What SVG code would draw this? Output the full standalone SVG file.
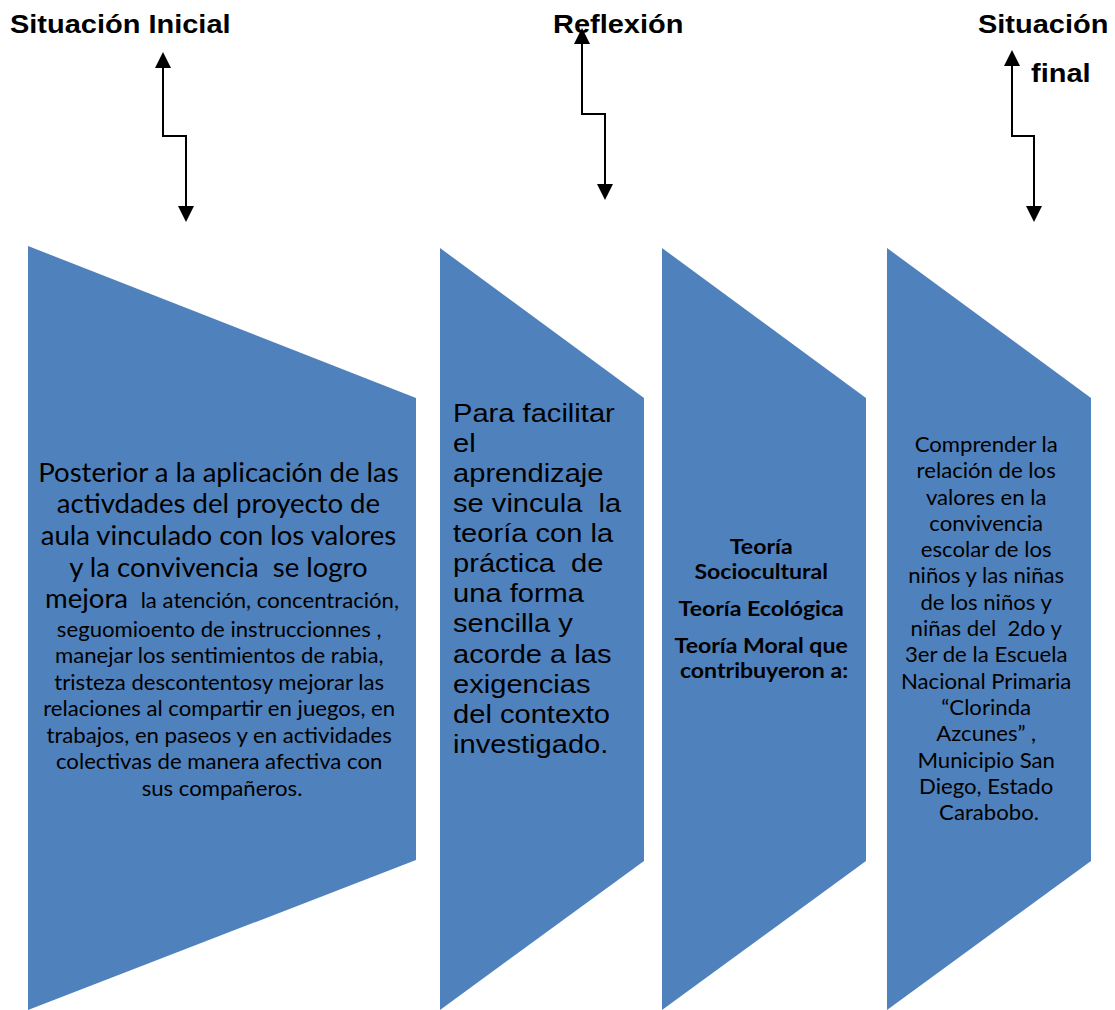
<svg xmlns="http://www.w3.org/2000/svg" width="1115" height="1010" viewBox="0 0 1115 1010">
<defs>
<style>
.shape{fill:#4F81BD;}
.head{font-family:"Liberation Sans",Arial,sans-serif;font-weight:bold;font-size:26px;fill:#000;}
.cal{font-family:Lato,"Open Sans",sans-serif;fill:#000;}
.ari{font-family:"Liberation Sans",Arial,sans-serif;font-size:26px;fill:#000;}
.conn{fill:none;stroke:#000;stroke-width:2;}
</style>
<marker id="ah" markerUnits="userSpaceOnUse" markerWidth="16" markerHeight="16" viewBox="0 0 16 16" refX="1" refY="8" orient="auto-start-reverse">
<path d="M0,0 L16,8 L0,16 Z" fill="#000"/>
</marker>
</defs>
<rect width="1115" height="1010" fill="#fff"/>

<g id="titles">
<text class="head" transform="translate(10,33) scale(1.115,1)">Situación Inicial</text>
<text class="head" transform="translate(553,33) scale(1.115,1)">Reflexión</text>
<text class="head" transform="translate(978,33) scale(1.115,1)">Situación</text>
<text class="head" transform="translate(1031,82) scale(1.115,1)">final</text>
</g>

<g id="connectors">
<path class="conn" d="M163,67 V136 H186 V207" marker-start="url(#ah)" marker-end="url(#ah)"/>
<path class="conn" d="M582,43 V114 H605 V185" marker-start="url(#ah)" marker-end="url(#ah)"/>
<path class="conn" d="M1012,65 V136 H1034 V207" marker-start="url(#ah)" marker-end="url(#ah)"/>
</g>

<g id="node1">
<polygon class="shape" points="28,246 416,398 416,860 28,1010"/>
<g transform="translate(222,0) scale(1.04,1)">
<text class="cal" text-anchor="middle" font-size="26.5">
<tspan x="0" y="482">Posterior a la aplicación de las</tspan>
<tspan x="0" y="513.5">activdades del proyecto de</tspan>
<tspan x="0" y="545">aula vinculado con los valores</tspan>
<tspan x="0" y="577">y la convivencia&#160; se logro</tspan>
<tspan x="0" y="608.5">mejora&#160;<tspan font-size="21.3">&#160;la atención, concentración,</tspan></tspan>
</text>
<text class="cal" text-anchor="middle" font-size="21.3">
<tspan x="0" y="637">seguomioento de instruccionnes ,</tspan>
<tspan x="0" y="663.5">manejar los sentimientos de rabia,</tspan>
<tspan x="0" y="690">tristeza descontentosy mejorar las</tspan>
<tspan x="0" y="716.5">relaciones al compartir en juegos, en</tspan>
<tspan x="0" y="743">trabajos, en paseos y en actividades</tspan>
<tspan x="0" y="769.5">colectivas de manera afectiva con</tspan>
<tspan x="0" y="796">sus compañeros.</tspan>
</text>
</g>
</g>

<g id="node2">
<polygon class="shape" points="440,248 644,398 644,861 440,1010"/>
<g transform="translate(453,0) scale(1.12,1)">
<text class="ari">
<tspan x="0" y="422">Para facilitar</tspan>
<tspan x="0" y="452">el</tspan>
<tspan x="0" y="482">aprendizaje</tspan>
<tspan x="0" y="512">se vincula&#160; la</tspan>
<tspan x="0" y="542.5">teoría con la</tspan>
<tspan x="0" y="572.5">práctica&#160; de</tspan>
<tspan x="0" y="602.5">una forma</tspan>
<tspan x="0" y="632.5">sencilla y</tspan>
<tspan x="0" y="663">acorde a las</tspan>
<tspan x="0" y="693">exigencias</tspan>
<tspan x="0" y="723">del contexto</tspan>
<tspan x="0" y="753">investigado.</tspan>
</text>
</g>
</g>

<g id="node3">
<polygon class="shape" points="662,248 866,398 866,861 662,1010"/>
<g transform="translate(764,0) scale(1.1,1)">
<text class="cal" text-anchor="middle" font-size="21" font-weight="bold">
<tspan x="0" y="554">Teoría</tspan>
<tspan x="0" y="579">Sociocultural</tspan>
<tspan x="0" y="616">Teoría Ecológica</tspan>
<tspan x="0" y="653">Teoría Moral que</tspan>
<tspan x="0" y="678">contribuyeron a:</tspan>
</text>
</g>
</g>

<g id="node4">
<polygon class="shape" points="887,248 1091,398 1091,861 887,1010"/>
<g transform="translate(989,0) scale(1.04,1)">
<text class="cal" text-anchor="middle" font-size="21.3">
<tspan x="0" y="452">Comprender la</tspan>
<tspan x="0" y="478.3">relación de los</tspan>
<tspan x="0" y="504.6">valores en la</tspan>
<tspan x="0" y="530.9">convivencia</tspan>
<tspan x="0" y="557.2">escolar de los</tspan>
<tspan x="0" y="583.5">niños y las niñas</tspan>
<tspan x="0" y="609.8">de los niños y</tspan>
<tspan x="0" y="636.1">niñas del&#160; 2do y</tspan>
<tspan x="0" y="662.4">3er de la Escuela</tspan>
<tspan x="0" y="688.7">Nacional Primaria</tspan>
<tspan x="0" y="715">“Clorinda</tspan>
<tspan x="0" y="741.3">Azcunes” ,</tspan>
<tspan x="0" y="767.6">Municipio San</tspan>
<tspan x="0" y="793.9">Diego, Estado</tspan>
<tspan x="0" y="820.2">Carabobo.</tspan>
</text>
</g>
</g>
</svg>
